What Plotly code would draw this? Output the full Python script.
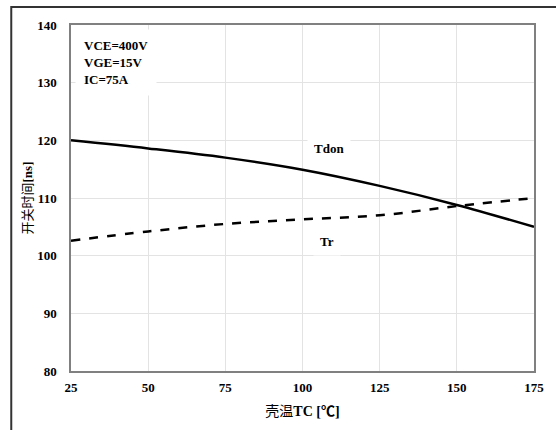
import plotly.graph_objects as go

temps = [25, 50, 75, 100, 125, 150, 175]
tdon = [120.0, 118.6, 117.0, 114.9, 112.1, 108.8, 105.0]
tr = [102.6, 104.2, 105.5, 106.3, 107.0, 108.6, 110.0]
x_ticks = [25, 50, 75, 100, 125, 150, 175]
y_ticks = [80, 90, 100, 110, 120, 130, 140]

FONT = "Liberation Serif, Times New Roman, Noto Sans CJK SC, serif"

fig = go.Figure()
fig.add_trace(go.Scatter(x=temps, y=tdon, mode="lines", name="Tdon",
                         line=dict(color="black", width=2.5, shape="spline")))
fig.add_trace(go.Scatter(x=temps, y=tr, mode="lines", name="Tr",
                         line=dict(color="black", width=2.5, dash="dash", shape="spline")))

fig.update_layout(
    width=556, height=430,
    margin=dict(l=71, r=20, t=25, b=59),
    paper_bgcolor="white", plot_bgcolor="white",
    showlegend=False,
    font=dict(family=FONT, size=13, color="black"),
    xaxis=dict(range=[25, 175], tickvals=x_ticks, ticktext=[f"<b>{v}</b>" for v in x_ticks],
               showgrid=True, gridcolor="#e3e3e3", gridwidth=1,
               showline=True, linecolor="#808080", linewidth=1.5, mirror=True,
               zeroline=False, ticks="", ticklen=0, ticklabelstandoff=4,
               title=dict(text="壳温<b>TC [℃]</b>", font=dict(size=14, family=FONT), standoff=12)),
    yaxis=dict(range=[80, 140], tickvals=y_ticks, ticktext=[f"<b>{v}</b>" for v in y_ticks],
               showgrid=True, gridcolor="#e3e3e3", gridwidth=1,
               showline=True, linecolor="#808080", linewidth=1.5, mirror=True,
               zeroline=False, ticks="", ticklen=0, ticklabelstandoff=10,
               title=dict(text="开关时间<b>[ns]</b>", font=dict(size=13, family=FONT), standoff=2)),
)

# outer frame extending beyond the visible area
fig.add_shape(type="rect", xref="paper", yref="paper",
              x0=-60/465, x1=540/465, y0=-120/346, y1=(371-7)/346,
              line=dict(color="#333333", width=2), fillcolor="rgba(0,0,0,0)", layer="above")

fig.add_annotation(x=0, y=1, xref="paper", yref="paper", xanchor="left", yanchor="top",
                   xshift=4, yshift=-4,
                   text="<b>VCE=400V</b><br><b>VGE=15V</b><br><b>IC=75A</b>",
                   align="left", showarrow=False, bgcolor="white", borderpad=8,
                   font=dict(size=13, family=FONT, color="black"))
fig.add_annotation(x=108.5, y=118.5, text="<b>Tdon</b>", showarrow=False,
                   bgcolor="white", borderpad=6, font=dict(size=13, family=FONT, color="black"))
fig.add_annotation(x=108, y=102.4, text="<b>Tr</b>", showarrow=False,
                   bgcolor="white", borderpad=6, font=dict(size=13, family=FONT, color="black"))

fig.write_html("out.html", config={"displayModeBar": False},
               post_script="document.body.style.margin='0';document.body.style.overflow='hidden';")
